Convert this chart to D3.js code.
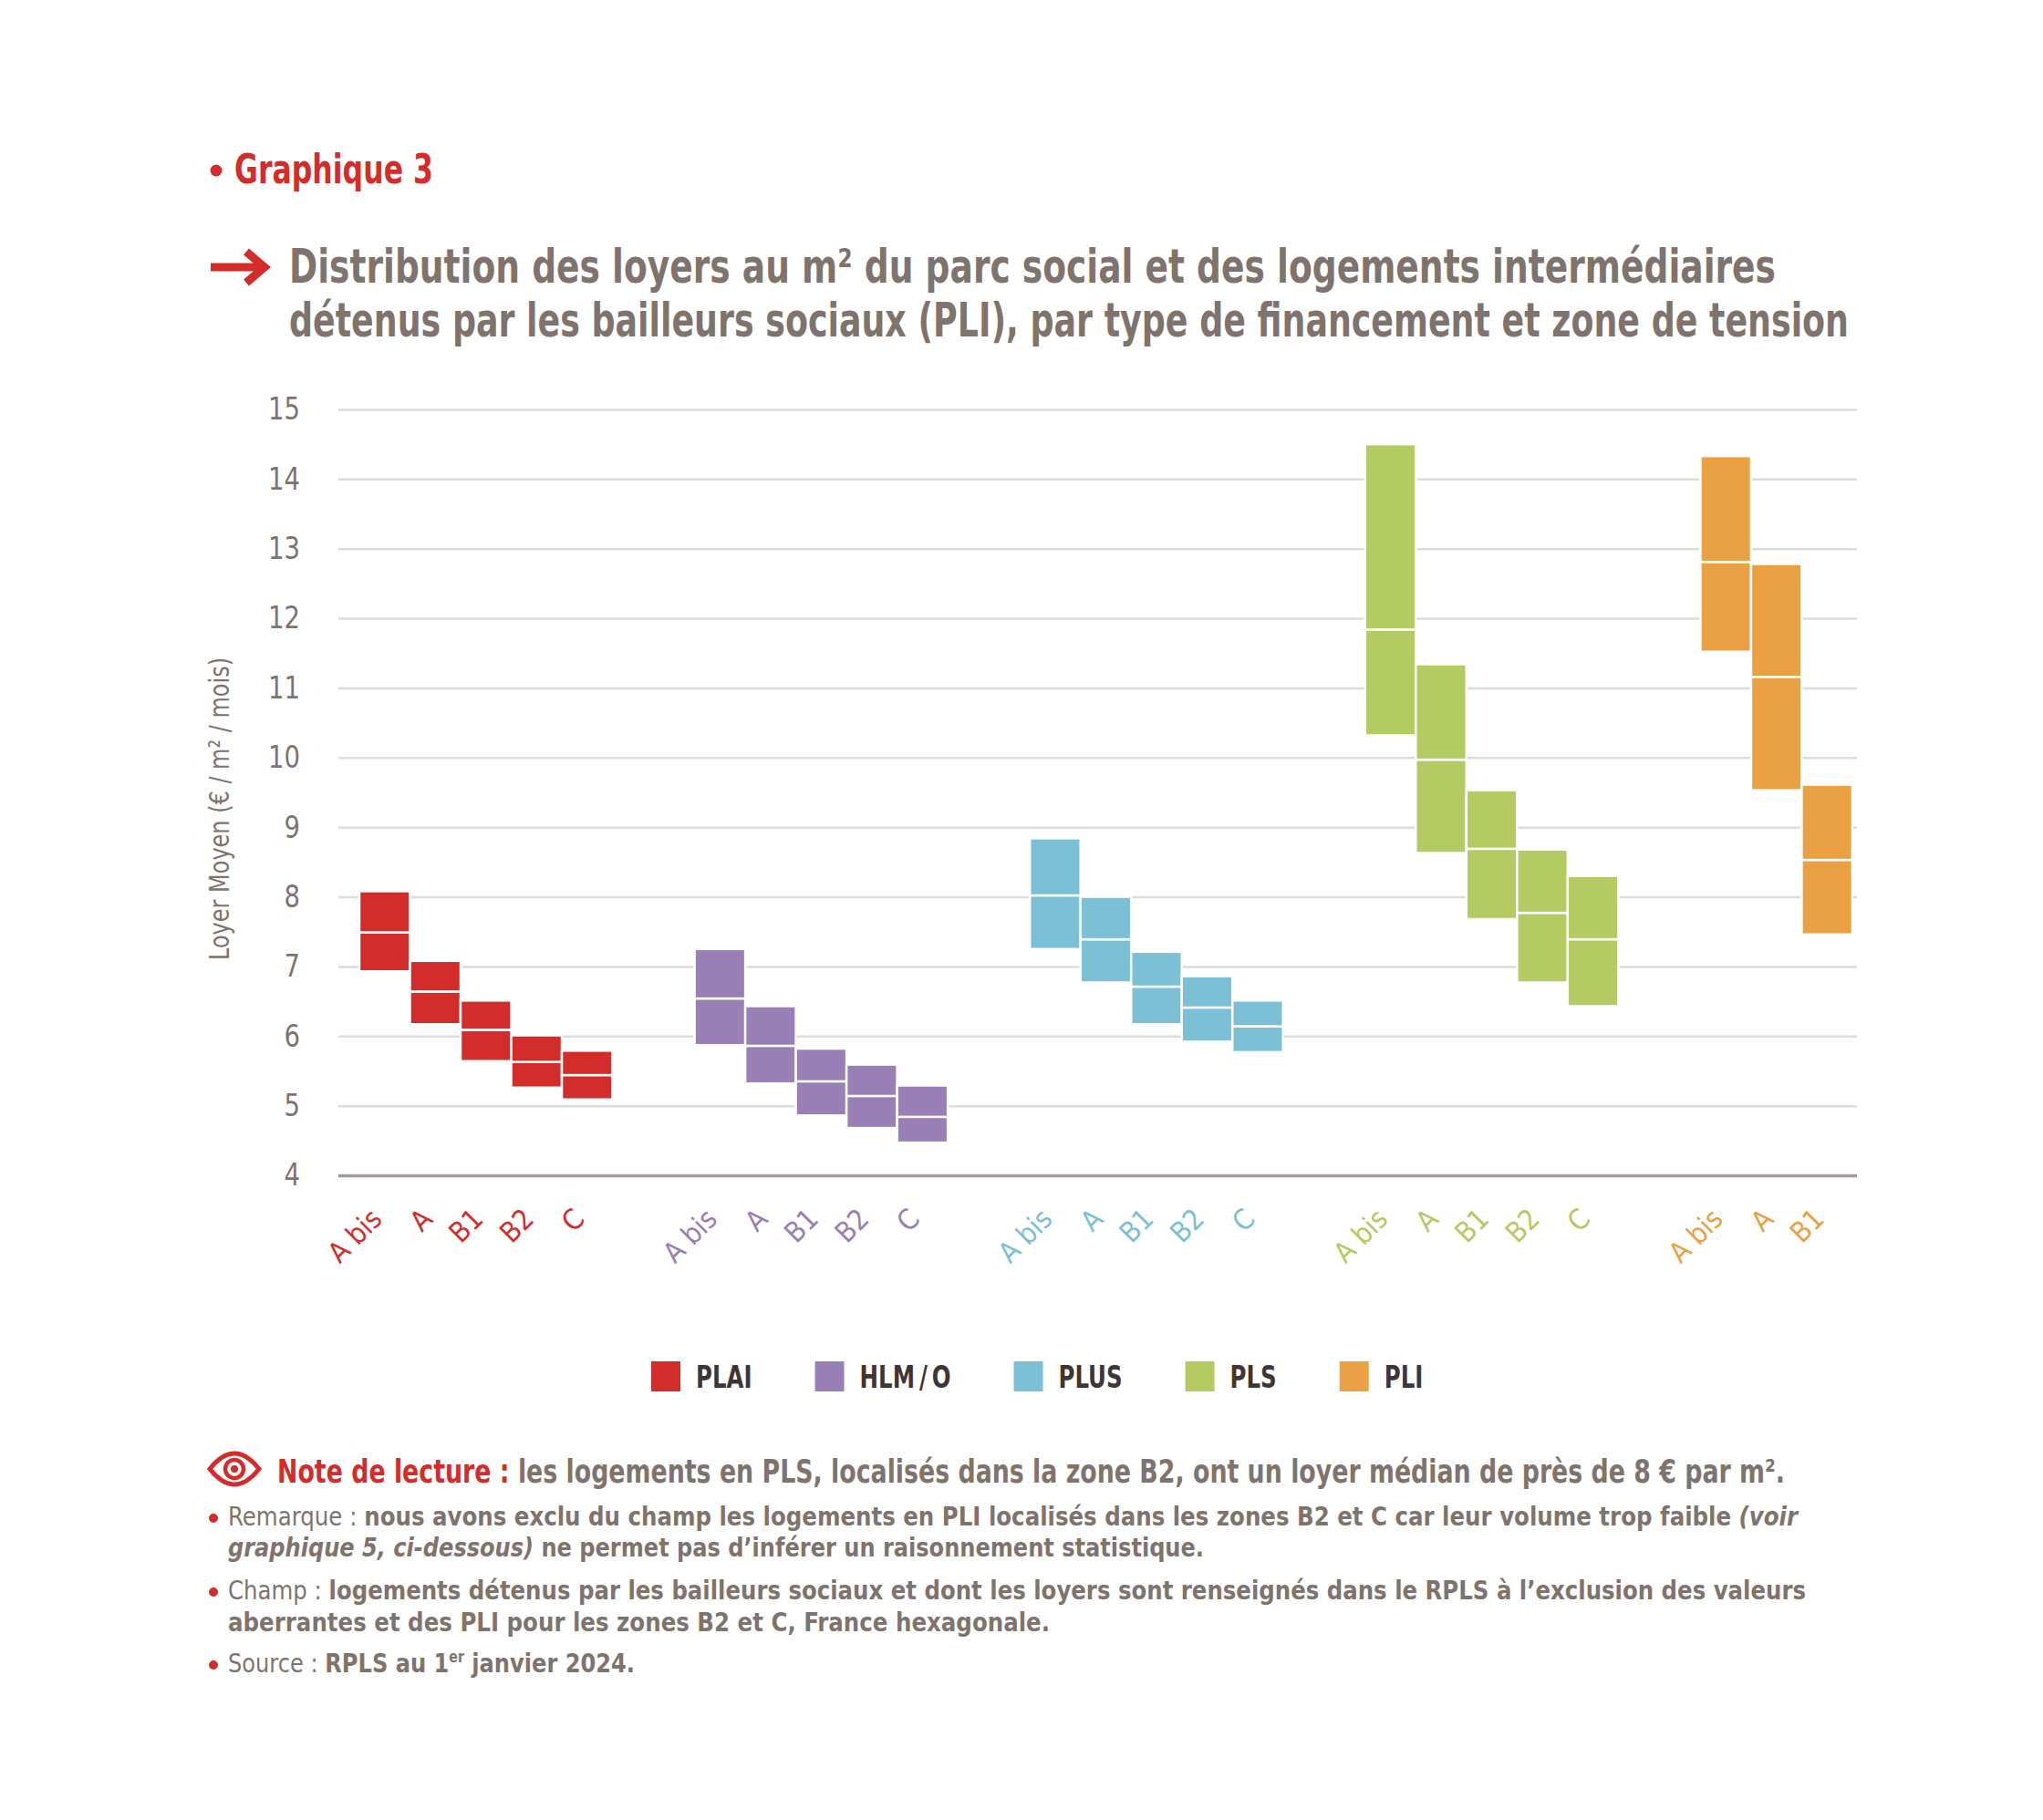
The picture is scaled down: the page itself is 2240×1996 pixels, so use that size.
<!DOCTYPE html>
<html lang="fr">
<head>
<meta charset="utf-8">
<script src="https://cdn.jsdelivr.net/npm/d3@7.9.0/dist/d3.min.js"></script>
<style>
  html, body { margin: 0; padding: 0; background: #fff; }
  svg { display: block; }
  text { font-family: "Liberation Sans Narrow", "DejaVu Sans Condensed", "Roboto Condensed", Roboto, sans-serif; }
</style>
</head>
<body>
<svg id="chart" width="2240" height="1996"></svg>
<script>
// Categories
const GROUPS = ["PLAI", "HLM\u2009/\u2009O", "PLUS", "PLS", "PLI"];
const ZONES = ["A bis", "A", "B1", "B2", "C"];
const PLI_ZONES = ["A bis", "A", "B1"];
const COLORS = ["#d22d2a", "#9880b6", "#7cc0d6", "#b4ca63", "#e9a144"];
const Y_TICKS = [4, 5, 6, 7, 8, 9, 10, 11, 12, 13, 14, 15];

// Rent per m² : low edge / median / high edge of each box, by zone
const PLAI_LOW = [6.93, 6.17, 5.64, 5.26, 5.09];
const PLAI_MED = [7.49, 6.64, 6.09, 5.63, 5.44];
const PLAI_HIGH = [8.08, 7.08, 6.51, 6.01, 5.79];

const HLM_LOW = [5.87, 5.32, 4.86, 4.68, 4.47];
const HLM_MED = [6.54, 5.86, 5.35, 5.14, 4.84];
const HLM_HIGH = [7.25, 6.43, 5.82, 5.59, 5.29];

const PLUS_LOW = [7.25, 6.77, 6.17, 5.92, 5.77];
const PLUS_MED = [8.02, 7.39, 6.71, 6.41, 6.14];
const PLUS_HIGH = [8.84, 8.00, 7.21, 6.86, 6.51];

const PLS_LOW = [10.32, 8.63, 7.68, 6.77, 6.43];
const PLS_MED = [11.84, 9.97, 8.69, 7.77, 7.39];
const PLS_HIGH = [14.50, 11.34, 9.53, 8.68, 8.30];

const PLI_LOW = [11.52, 9.53, 7.46];
const PLI_MED = [12.81, 11.16, 8.53];
const PLI_HIGH = [14.33, 12.78, 9.61];

// Table built from the arrays above
const series = [
  { name: GROUPS[0], zones: ZONES, low: PLAI_LOW, med: PLAI_MED, high: PLAI_HIGH },
  { name: GROUPS[1], zones: ZONES, low: HLM_LOW, med: HLM_MED, high: HLM_HIGH },
  { name: GROUPS[2], zones: ZONES, low: PLUS_LOW, med: PLUS_MED, high: PLUS_HIGH },
  { name: GROUPS[3], zones: ZONES, low: PLS_LOW, med: PLS_MED, high: PLS_HIGH },
  { name: GROUPS[4], zones: PLI_ZONES, low: PLI_LOW, med: PLI_MED, high: PLI_HIGH }
];
const boxes = series.flatMap((s, i) =>
  s.zones.map((z, j) => ({
    group: s.name, zone: z, color: COLORS[i],
    low: s.low[j], med: s.med[j], high: s.high[j]
  }))
);

const GREY = "#7f736d";
const RED = "#d22d2a";
const svg = d3.select("#chart");

// Scales
const plotLeft = 371, plotRight = 2036;
const y = d3.scaleLinear().domain([4, 15]).range([1289, 449]);
const x0 = d3.scaleBand().domain(GROUPS)
  .range([394, 394 + 367.6 * (GROUPS.length - 0.245)])
  .paddingInner(0.245).paddingOuter(0);
const x1 = d3.scaleBand().domain(ZONES).range([0, x0.bandwidth()]).padding(0);
const cx = (d) => x0(d.group) + x1(d.zone);

// squeeze a text to a narrower, condensed look
const condense = (sel, k) => sel.each(function () {
  d3.select(this).attr("textLength", this.getComputedTextLength() * k)
    .attr("lengthAdjust", "spacingAndGlyphs");
});

// Header
svg.append("circle").attr("cx", 237).attr("cy", 187).attr("r", 6.5).attr("fill", RED);
svg.append("text").attr("x", 257).attr("y", 201)
  .attr("font-size", 44).attr("font-weight", 700).attr("fill", RED)
  .attr("textLength", 218).attr("lengthAdjust", "spacingAndGlyphs")
  .text("Graphique 3");

// Arrow
svg.append("path").attr("d", "M231,293 H286").attr("stroke", RED).attr("stroke-width", 9);
svg.append("path").attr("d", "M270,276 L290,293 L270,310")
  .attr("fill", "none").attr("stroke", RED).attr("stroke-width", 9)
  .attr("stroke-linejoin", "miter");

const titleLines = [
  { text: "Distribution des loyers au m² du parc social et des logements intermédiaires", y: 310, len: 1630 },
  { text: "détenus par les bailleurs sociaux (PLI), par type de financement et zone de tension", y: 369, len: 1710 }
];
svg.selectAll(".title").data(titleLines).join("text")
  .attr("x", 317).attr("y", (d) => d.y)
  .attr("font-size", 51).attr("font-weight", 700).attr("fill", GREY)
  .attr("textLength", (d) => d.len).attr("lengthAdjust", "spacingAndGlyphs")
  .text((d) => d.text);

// Y axis with gridlines
const yAxis = svg.append("g")
  .attr("transform", `translate(${plotLeft},0)`)
  .call(d3.axisLeft(y).tickValues(Y_TICKS)
    .tickSize(-(plotRight - plotLeft)).tickPadding(42));
yAxis.select(".domain").remove();
yAxis.selectAll(".tick line")
  .attr("stroke", (d) => d === 4 ? "#a39b97" : "#dcdcdc")
  .attr("stroke-width", (d) => d === 4 ? 3.5 : 2.5);
yAxis.selectAll(".tick text")
  .attr("font-size", 34).attr("fill", GREY)
  .attr("font-family", "\"Liberation Sans Narrow\", \"DejaVu Sans Condensed\", Roboto, sans-serif")
  .call(condense, 0.9);

svg.append("text")
  .attr("transform", "translate(251,887) rotate(-90)")
  .attr("text-anchor", "middle")
  .attr("font-size", 31).attr("fill", GREY)
  .attr("textLength", 332).attr("lengthAdjust", "spacingAndGlyphs")
  .text("Loyer Moyen (€ / m² / mois)");

// Boxes: lower half (low → median), upper half (median → high)
const gBoxes = svg.append("g");
gBoxes.selectAll(".lower").data(boxes).join("rect")
  .attr("x", cx).attr("width", x1.bandwidth())
  .attr("y", (d) => y(d.med)).attr("height", (d) => y(d.low) - y(d.med))
  .attr("fill", (d) => d.color).attr("stroke", "#fff").attr("stroke-width", 2.5);
gBoxes.selectAll(".upper").data(boxes).join("rect")
  .attr("x", cx).attr("width", x1.bandwidth())
  .attr("y", (d) => y(d.high)).attr("height", (d) => y(d.med) - y(d.high))
  .attr("fill", (d) => d.color).attr("stroke", "#fff").attr("stroke-width", 2.5);

// Zone labels
svg.append("g").selectAll("text").data(boxes).join("text")
  .attr("transform", (d) => `translate(${cx(d) + x1.bandwidth() / 2 - 9},1331) rotate(-45)`)
  .attr("text-anchor", "end").attr("dy", "0.35em")
  .attr("font-size", 31).attr("fill", (d) => d.color)
  .text((d) => d.zone);

// Legend
const legend = svg.append("g").attr("transform", "translate(714,1493)");
let lx = 0;
GROUPS.forEach((g, i) => {
  const item = legend.append("g").attr("transform", `translate(${lx},0)`);
  item.append("rect").attr("width", 32).attr("height", 33).attr("fill", COLORS[i]);
  const t = item.append("text").attr("x", 49).attr("y", 29)
    .attr("font-size", 34).attr("font-weight", 700).attr("fill", "#3e3636")
    .text(g);
  const w = t.node().getComputedTextLength() * 0.8;
  t.attr("textLength", w).attr("lengthAdjust", "spacingAndGlyphs");
  lx += 49 + w + 69;
});

// Reading note with eye icon
const eye = svg.append("g").attr("transform", "translate(257,1611)")
  .attr("fill", "none").attr("stroke", RED);
eye.append("path").attr("d", "M-27,0 Q0,-34 27,0 Q0,34 -27,0 Z").attr("stroke-width", 5);
eye.append("circle").attr("r", 10).attr("stroke-width", 4.5);
eye.append("circle").attr("r", 4).attr("fill", RED).attr("stroke", "none");

const note = svg.append("text").attr("x", 304).attr("y", 1626)
  .attr("font-size", 36).attr("font-weight", 700)
  .attr("textLength", 1653).attr("lengthAdjust", "spacingAndGlyphs");
note.append("tspan").attr("fill", RED).text("Note de lecture : ");
note.append("tspan").attr("fill", GREY)
  .text("les logements en PLS, localisés dans la zone B2, ont un loyer médian de près de 8 € par m².");

// Footnotes
const footLines = [
  { y: 1673, len: 1721, bullet: true, parts: [
    ["Remarque : ", 300, "normal"],
    ["nous avons exclu du champ les logements en PLI localisés dans les zones B2 et C car leur volume trop faible ", 700, "normal"],
    ["(voir", 700, "italic"]] },
  { y: 1707, len: 1070, bullet: false, parts: [
    ["graphique 5, ci-dessous)", 700, "italic"],
    [" ne permet pas d’inférer un raisonnement statistique.", 700, "normal"]] },
  { y: 1754, len: 1730, bullet: true, parts: [
    ["Champ : ", 300, "normal"],
    ["logements détenus par les bailleurs sociaux et dont les loyers sont renseignés dans le RPLS à l’exclusion des valeurs", 700, "normal"]] },
  { y: 1789, len: 901, bullet: false, parts: [
    ["aberrantes et des PLI pour les zones B2 et C, France hexagonale.", 700, "normal"]] },
  { y: 1834, len: 446, bullet: true, parts: [
    ["Source : ", 300, "normal"],
    ["RPLS au 1", 700, "normal"],
    ["er", 700, "sup"],
    [" janvier 2024.", 700, "after-sup"]] }
];
footLines.forEach((line) => {
  if (line.bullet) {
    svg.append("circle").attr("cx", 234).attr("cy", line.y - 8).attr("r", 5).attr("fill", RED);
  }
  const t = svg.append("text").attr("x", 250).attr("y", line.y)
    .attr("font-size", 29).attr("fill", GREY)
    .attr("textLength", line.len).attr("lengthAdjust", "spacingAndGlyphs");
  line.parts.forEach(([txt, w, style]) => {
    const sp = t.append("tspan").attr("font-weight", w).text(txt);
    if (style === "italic") sp.attr("font-style", "italic");
    if (style === "sup") sp.attr("font-size", 17).attr("dy", -11);
    if (style === "after-sup") sp.attr("dy", 11);
  });
});
</script>
</body>
</html>
